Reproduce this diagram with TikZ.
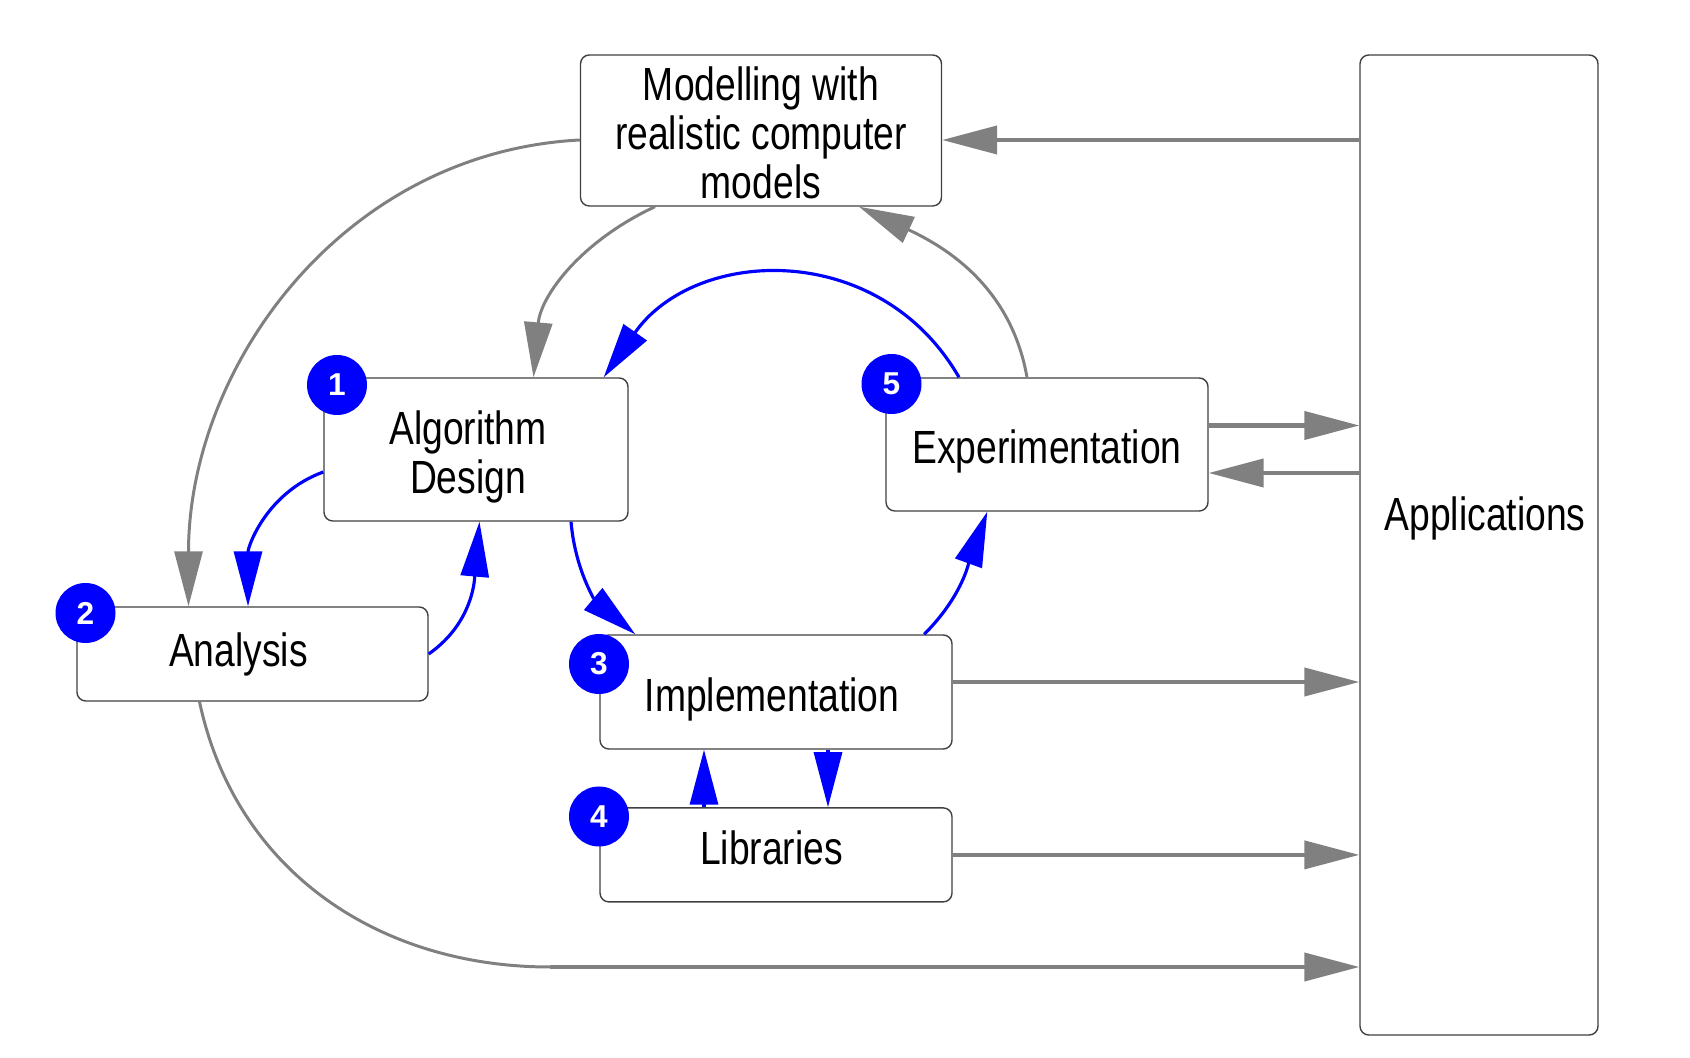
\documentclass[tikz,border=0pt]{standalone}
\usepackage{fontspec}
\setmainfont[FakeStretch=0.8]{Liberation Sans}
\newfontfamily\badgefont{Liberation Sans}
\usetikzlibrary{arrows.meta, positioning}
\definecolor{flowgrey}{HTML}{808080}
\definecolor{stepblue}{HTML}{0000FF}

\begin{document}
\begin{tikzpicture}[
  font=\fontsize{26.5}{28}\selectfont,
  every label/.style={align=center},
  box/.style={rectangle,rounded corners=5pt,draw=black!75,line width=0.8pt,fill=white,
    align=center,inner sep=0pt},
  badge/.style={circle,fill=stepblue,text=white,minimum size=1.2cm,inner sep=0pt,
    font=\badgefont\bfseries\fontsize{18}{18}\selectfont},
  garr/.style={-{Triangle[length=1.1cm,width=0.56cm]},line width=2.3pt,color=flowgrey},
  gcurve/.style={garr,line width=1.7pt},
  barr/.style={-{Triangle[length=1.1cm,width=0.56cm]},line width=1.8pt,color=stepblue}]
  \useasboundingbox (0,0) rectangle (33.8,21.16);
  \node[box,minimum width=7.22cm,minimum height=3.02cm,
    label={[yshift=-0.05cm]center:Modelling with\\realistic computer\\models}]  (model) at (15.22,18.55) {};
  \node[box,minimum width=4.76cm,minimum height=19.6cm,
    label={[shift={(0.12,0.54)}]center:Applications}]     (apps)  at (29.58,10.26) {};
  \node[box,minimum width=6.08cm,minimum height=2.86cm,
    label={[shift={(-0.16,-0.15)}]center:Algorithm\\Design}] (algo) at (9.52,12.17) {};
  \node[box,minimum width=7.02cm,minimum height=1.88cm,
    label={[shift={(-0.28,0)}]center:Analysis}]           (ana)   at (5.05,8.08)   {};
  \node[box,minimum width=6.44cm,minimum height=2.66cm,
    label={[shift={(0,-0.13)}]center:Experimentation}]    (exper) at (20.94,12.27) {};
  \node[box,minimum width=7.04cm,minimum height=2.28cm,
    label={[shift={(-0.08,-0.15)}]center:Implementation}] (impl)  at (15.52,7.32)  {};
  \node[box,minimum width=7.04cm,minimum height=1.88cm,below=1.15cm of impl,
    label={[shift={(-0.09,0.15)}]center:Libraries}]       (lib) {};
  % grey flows
  \draw[garr](apps.west |- 0,18.36)--(model.east |- 0,18.36);
  \draw[gcurve]([yshift=-0.19cm]model.west) to[out=183,in=90] ([xshift=-1.28cm]ana.north);
  \draw[gcurve]([xshift=-2.12cm]model.south) to[out=205,in=85] ([xshift=1.15cm]algo.north);
  \draw[gcurve]([xshift=-0.4cm]exper.north) to[out=100,in=-25] ([xshift=1.96cm]model.south);
  \draw[garr](exper.east |- 0,12.65)--(apps.west |- 0,12.65);
  \draw[garr](apps.west |- 0,11.70)--(exper.east |- 0,11.70);
  \draw[garr](impl.east |- 0,7.52)--(apps.west |- 0,7.52);
  \draw[garr](lib.east)--(apps.west |- lib.east);
  \draw[gcurve,-]([xshift=-1.06cm]ana.south) to[out=-78,in=180] (11,1.82);
  \draw[garr](11,1.82)--(apps.west |- 0,1.82);
  % blue cycle
  \draw[barr]([xshift=-1.76cm]exper.north) to[out=120,in=55,looseness=1.15] ([xshift=-0.5cm]algo.north east);
  \draw[barr]([yshift=-0.45cm]algo.west) to[out=200,in=90] ([xshift=-0.09cm]ana.north);
  \draw[barr](ana.east) to[out=35,in=-95] ([xshift=0.07cm]algo.south);
  \draw[barr]([xshift=1.9cm]algo.south) to[out=-85,in=140] ([xshift=0.72cm]impl.north west);
  \draw[barr]([xshift=-0.57cm]impl.north east) to[out=45,in=-110] ([xshift=2.04cm]exper.south west);
  \draw[barr]([xshift=-1.44cm]lib.north)--([xshift=-1.44cm]impl.south);
  \draw[barr]([xshift=1.04cm]impl.south)--([xshift=1.04cm]lib.north);
  % step numbers
  \node[badge] (b1) at (6.74,13.46) {1};
  \node[badge] (b2) at (1.71,8.90)  {2};
  \node[badge] (b3) at (11.98,7.88) {3};
  \node[badge] (b4) at (11.98,4.83) {4};
  \node[badge] (b5) at (17.83,13.48) {5};
\end{tikzpicture}
\end{document}
